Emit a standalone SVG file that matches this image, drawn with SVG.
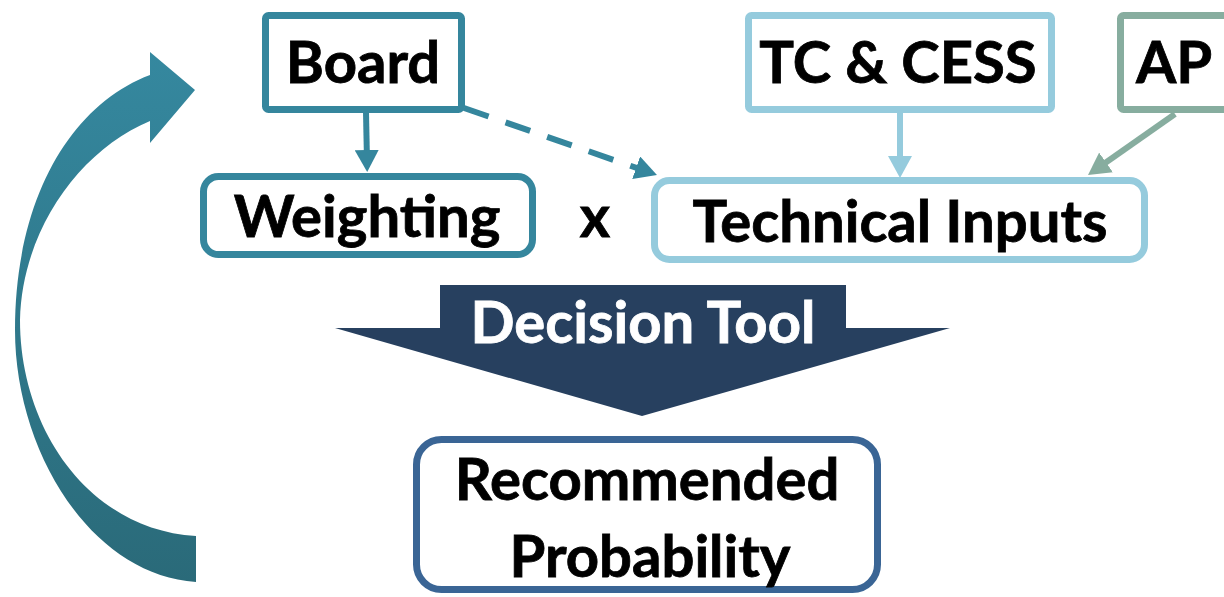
<svg xmlns="http://www.w3.org/2000/svg" width="1224" height="597" viewBox="0 0 1224 597">
<style>
.lbl{font-family:Lato,"Open Sans","Liberation Sans",sans-serif;font-weight:bold;font-size:58px;fill:#000;stroke:#000;stroke-width:0.8px;text-anchor:middle}
.box{fill:#fff;stroke-width:7}
.teal{stroke:#35869d}
.light{stroke:#95cbdd}
.green{stroke:#87ad9f}
.conn{fill:none;stroke-width:6}
</style>
<defs>
<linearGradient id="cg" x1="0" y1="0" x2="0" y2="1">
<stop offset="0" stop-color="#35889f"/>
<stop offset="1" stop-color="#2a6a79"/>
</linearGradient>
<marker id="ahTeal" markerUnits="userSpaceOnUse" markerWidth="24" markerHeight="24" refX="12" refY="12" orient="auto"><path d="M0,0 L22,12 L0,24 Z" fill="#35869d"/></marker>
<marker id="ahLight" markerUnits="userSpaceOnUse" markerWidth="24" markerHeight="24" refX="12" refY="12" orient="auto"><path d="M0,0 L22,12 L0,24 Z" fill="#95cbdd"/></marker>
<marker id="ahGreen" markerUnits="userSpaceOnUse" markerWidth="24" markerHeight="24" refX="12" refY="12" orient="auto"><path d="M0,0 L22,12 L0,24 Z" fill="#87ad9f"/></marker>
</defs>
<rect width="1224" height="597" fill="#fff"/>
<g id="loop-arrow">
<path d="M196,582 C90,575 15,450 15,330 C15,200 70,105 150,75 L150,52 L195,90 L150,143 L150,121 C80,150 22,230 20,320 C20,430 90,530 196,536 Z" fill="url(#cg)"/>
</g>
<g id="connectors">
<line class="conn teal" x1="366" y1="112" x2="367" y2="162" marker-end="url(#ahTeal)"/>
<line class="conn teal" x1="464" y1="108" x2="647.5" y2="171.7" stroke-dasharray="26 18" marker-end="url(#ahTeal)"/>
<line class="conn light" x1="900" y1="112" x2="900" y2="168" marker-end="url(#ahLight)"/>
<line class="conn green" x1="1175" y1="114" x2="1096.2" y2="169.3" marker-end="url(#ahGreen)"/>
</g>
<g id="board">
<rect class="box teal" x="265.5" y="15.5" width="196" height="94" rx="3"/>
<text class="lbl" x="363" y="83">Board</text>
</g>
<g id="tc-cess">
<rect class="box light" x="748.5" y="15.5" width="303" height="94" rx="3"/>
<text class="lbl" x="898" y="83">TC &amp; CESS</text>
</g>
<g id="ap">
<rect class="box green" x="1120.5" y="15.5" width="130" height="94" rx="3"/>
<text class="lbl" x="1174" y="83">AP</text>
</g>
<g id="weighting">
<rect class="box teal" x="203.5" y="176.5" width="329" height="78" rx="15"/>
<text class="lbl" x="367" y="237">Weighting</text>
</g>
<g id="times">
<text class="lbl" x="595" y="237">x</text>
</g>
<g id="technical-inputs">
<rect class="box light" x="654.5" y="180.5" width="490" height="79" rx="15"/>
<text class="lbl" x="900" y="242">Technical Inputs</text>
</g>
<g id="decision-tool">
<polygon points="440,285 846,285 846,328 950,328 642,416 335,328 440,328" fill="#27405f"/>
<text class="lbl" x="643" y="343" style="fill:#fff;stroke:#fff">Decision Tool</text>
</g>
<g id="recommended-probability">
<rect class="box" x="416.5" y="439.5" width="461" height="150" rx="25" stroke="#3a6595"/>
<text class="lbl" x="647" y="500">Recommended</text>
<text class="lbl" x="650" y="577">Probability</text>
</g>
</svg>
